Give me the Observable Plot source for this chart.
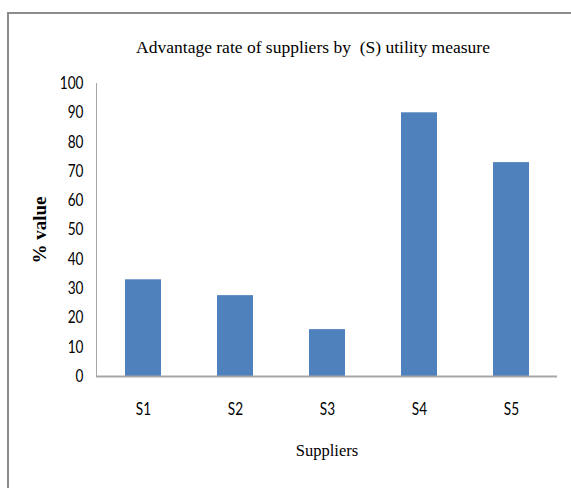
<!DOCTYPE html>
<html>
<head>
<meta charset="utf-8">
<script src="https://cdn.jsdelivr.net/npm/d3@7"></script>
<script src="https://cdn.jsdelivr.net/npm/@observablehq/plot@0.6"></script>
<style>
  body { margin: 0; background: #fff; }
  #wrap { position: relative; width: 571px; height: 488px; overflow: hidden; background: #fff; }
  #border { position: absolute; left: 7px; top: 12px; width: 700px; height: 700px; border: 2px solid #8c8c8c; box-sizing: border-box; pointer-events: none; }
  #chart { position: absolute; left: 0; top: 0; }
</style>
</head>
<body>
<div id="wrap"><div id="chart"></div><div id="border"></div></div>
<script>
const suppliers = ["S1", "S2", "S3", "S4", "S5"];
const values = [33, 27.6, 16, 90, 73];
const yTicks = [0, 10, 20, 30, 40, 50, 60, 70, 80, 90, 100];
const titleText = "Advantage rate of suppliers by  (S) utility measure";
const xLabel = "Suppliers";
const yLabel = "% value";

const data = suppliers.map((s, i) => ({supplier: s, value: values[i]}));

const tickFont = "Lato, Carlito, Calibri, sans-serif";
const serif = "Liberation Serif, Times New Roman, serif";

const chart = Plot.plot({
  width: 571,
  height: 488,
  marginLeft: 96,
  marginRight: 14,
  marginTop: 83,
  marginBottom: 112,
  style: {background: "transparent", overflow: "visible"},
  x: {domain: suppliers, paddingInner: 0.61, paddingOuter: 0.305, axis: null},
  y: {domain: [0, 100], axis: null},
  marks: [
    Plot.barY(data, {x: "supplier", y: "value", fill: "#4F81BD"}),
    Plot.frame({anchor: "left", stroke: "#a6a6a6", strokeWidth: 1}),
    Plot.ruleY([0], {stroke: "#a6a6a6", strokeWidth: 2}),
    Plot.axisY(yTicks, {tickSize: 0, tickPadding: 13, fontSize: 17, fill: "#000",
      fontFamily: tickFont, label: null}),
    Plot.axisX(suppliers, {tickSize: 0, tickPadding: 26, fontSize: 17, fill: "#000",
      fontFamily: tickFont, label: null}),
    Plot.text([titleText], {frameAnchor: "top", lineAnchor: "bottom", textAnchor: "middle", dy: -31, dx: -14, fontSize: 17.5, fill: "#000",
      fontFamily: serif}),
    Plot.text([xLabel], {frameAnchor: "bottom", textAnchor: "middle", dy: 79, fontSize: 16.5, fill: "#000",
      fontFamily: serif}),
    Plot.text([yLabel], {frameAnchor: "left", textAnchor: "middle", dx: -57, dy: 0, rotate: -90, fontSize: 19, fontWeight: "bold", fill: "#000",
      fontFamily: serif})
  ]
});
document.getElementById("chart").appendChild(chart);

// the reference's tick text is horizontally condensed
function condense(sel, factor) {
  sel.each(function () {
    const w = this.getComputedTextLength();
    d3.select(this).attr("textLength", w * factor).attr("lengthAdjust", "spacingAndGlyphs");
  });
}
const root = d3.select(chart);
condense(root.selectAll('g[aria-label="y-axis tick label"] text'), 0.8);
condense(root.selectAll('g[aria-label="x-axis tick label"] text'), 0.8);
</script>
</body>
</html>
